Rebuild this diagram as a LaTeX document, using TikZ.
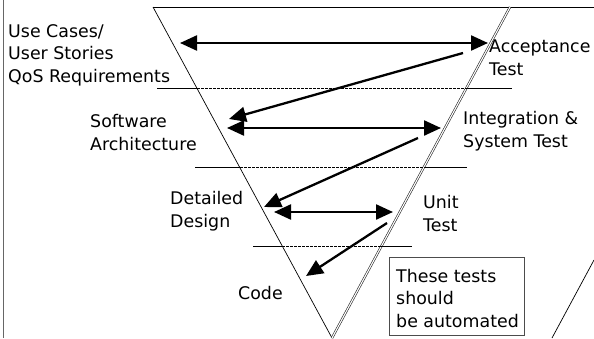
\documentclass[tikz,border=0pt]{standalone}
\usepackage{fontspec}
\setmainfont{DejaVu Sans}
\usepackage{xcolor}
\usetikzlibrary{calc,arrows.meta}

\begin{document}
\begin{tikzpicture}[
        x=1pt, y=-1pt,
        label/.style = {anchor=base west, inner sep=0pt, align=left,
            font=\fontsize{17.4}{22.5}\selectfont},
        edge/.style = {draw, line width=0.7pt},
        dbledge/.style = {draw=black!85, double=white, double distance=1.1pt, line width=0.6pt},
        level/.style = {draw, line width=0.7pt},
        sublevel/.style = {draw, line width=0.7pt, dash pattern=on 2.5pt off 1.5pt},
        arrow/.style = {-{Triangle[length=17pt,width=15pt]}, line width=2.3pt},
        dblarrow/.style = {{Triangle[length=17pt,width=15pt]}-{Triangle[length=17pt,width=15pt]}, line width=2.3pt}
    ]
    \useasboundingbox (0,0) rectangle (594,338);

    % frame line on the left and across the top
    \draw[draw=black!60, line width=0.8pt] (3,0) -- (3,338);
    \draw[edge] (153,7) -- (594,7);

    % the V
    \coordinate (vl) at (153,7);
    \coordinate (vr) at (510,7);
    \coordinate (vtip) at (332,338);
    \draw[edge] (vl) -- (vtip);
    \draw[dbledge] (vr) -- (vtip);
    \draw[edge] (552,338) -- (594,260);

    % levels across the V
    \draw[level] (157,88) -- (197,88);
    \draw[sublevel] (197,88) -- (466,88);
    \draw[level] (466,88) -- (512,88);

    \draw[level] (195,167) -- (240,167);
    \draw[sublevel] (240,167) -- (424,167);
    \draw[level] (424,167) -- (467,167);

    \draw[level] (253,246) -- (282,246);
    \draw[sublevel] (282,246) -- (381,246);
    \draw[level] (381,246) -- (412,246);

    % left side (base = last line)
    \node[label] (req) at (8,82) {Use Cases/\\User Stories\\QoS Requirements};
    \node[label] (arch) at (90,150) {Software\\Architecture};
    \node[label] (design) at (170,227) {Detailed\\Design};
    \node[label] (code) at (238,299) {Code};

    % right side
    \node[label] (acc) at (489,75) {Acceptance\\Test};
    \node[label] (integ) at (463,147) {Integration \&\\System Test};
    \node[label] (unit) at (423,231) {Unit\\Test};
    \node[draw=black!70, line width=0.6pt, anchor=north west, inner sep=0pt,
          minimum width=135pt, minimum height=78pt] (note) at (389,257) {};
    \node[label] (notetext) at (396,327) {These tests\\should\\be automated};

    % arrow ends
    \coordinate (reqin) at (180,43);
    \coordinate (accin) at (488,43);
    \coordinate (accout) at (463,53);
    \coordinate (archin) at (229,119);
    \coordinate (archbi) at (227,128);
    \coordinate (integin) at (441,128);
    \coordinate (integout) at (418,138);
    \coordinate (designin) at (264,207);
    \coordinate (designbi) at (274,212);
    \coordinate (unitin) at (393,212);
    \coordinate (unitout) at (387,223);
    \coordinate (codein) at (306,276);

    \draw[dblarrow] (reqin) -- (accin);
    \draw[arrow] (accout) -- (archin);
    \draw[dblarrow] (archbi) -- (integin);
    \draw[arrow] (integout) -- (designin);
    \draw[dblarrow] (designbi) -- (unitin);
    \draw[arrow] (unitout) -- (codein);

\end{tikzpicture}
\end{document}
